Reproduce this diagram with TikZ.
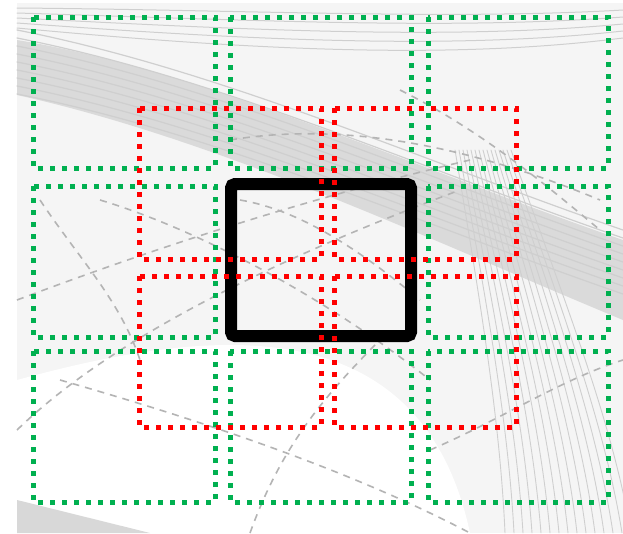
\documentclass[tikz,border=0pt]{standalone}
\usepackage{xcolor}
\usepackage{tikz}
\usetikzlibrary{calc}
\definecolor{CGreen}{HTML}{00B050}
\definecolor{CRed}{HTML}{FF0000}
\definecolor{CPaper}{HTML}{F5F5F5}
\definecolor{CStreak}{HTML}{CFCFCF}
\definecolor{CSketch}{HTML}{B4B4B4}

\begin{document}
\begin{tikzpicture}[x=1pt,y=-1pt,
  greenbox/.style={draw=CGreen, line width=5pt, dash pattern=on 5pt off 7pt},
  redbox/.style={draw=CRed, line width=5pt, dash pattern=on 5pt off 7pt},
  focusbox/.style={draw=black, line width=12pt, rounded corners=4pt},
  streak/.style={draw=CStreak, line cap=round},
  sketch/.style={draw=CSketch, line width=1.6pt, dash pattern=on 7pt off 6pt}]
\useasboundingbox (0,0) rectangle (623,533);
% background sketch
\fill[CPaper] (17,3) rectangle (623,533);
\fill[white] (17,380) .. controls (200,330) and (420,300) .. (470,533) -- (17,533) -- cycle;
\fill[CStreak, opacity=0.7] (17,40) .. controls (200,70) and (420,170) .. (623,240)
  -- (623,320) .. controls (430,240) and (220,140) .. (17,95) -- cycle;
\foreach \o in {0,8,...,64}{
  \draw[streak, line width=1.2pt] (17,{30+\o}) .. controls (220,{70+\o}) and (420,{160+\o}) .. (623,{230+\o});
}
\foreach \o in {0,10,...,40}{
  \draw[streak, line width=1pt] (17,{8+\o*0.5}) .. controls (250,{10+\o}) and (450,{20+\o}) .. (623,{10+\o*0.7});
}
\foreach \k in {0,...,14}{
  \draw[streak, line width=0.9pt] ({455+\k*4},150) .. controls ({480+\k*6},300) and ({500+\k*8},420) .. ({505+\k*9},533);
}
\fill[CStreak, opacity=0.8] (17,500) -- (150,533) -- (17,533) -- cycle;
% dashed sketch lines
\draw[sketch] (17,430) .. controls (120,330) and (300,250) .. (460,190);
\draw[sketch] (17,300) .. controls (150,250) and (300,200) .. (470,160);
\draw[sketch] (60,380) .. controls (200,420) and (350,470) .. (470,533);
\draw[sketch] (100,200) .. controls (200,230) and (330,300) .. (430,380);
\draw[sketch] (250,533) .. controls (280,450) and (320,400) .. (380,340);
\draw[sketch] (230,140) .. controls (350,120) and (480,150) .. (600,200);
\draw[sketch] (400,90) .. controls (480,130) and (540,180) .. (600,230);
\draw[sketch] (40,200) .. controls (80,260) and (120,300) .. (140,360);
\draw[sketch] (430,450) .. controls (500,420) and (560,380) .. (623,360);
\draw[sketch] (240,200) .. controls (300,210) and (360,250) .. (420,300);
% green grid
\foreach \xa/\xb in {33/215, 230/411, 428/608}{
  \foreach \ya/\yb in {17/168, 186/337, 351/502}{
    \draw[greenbox] (\xa,\ya) rectangle (\xb,\yb);
  }
}
% focus window
\draw[focusbox] (231,184) rectangle (411,336);
% red grid
\foreach \xa/\xb in {139/321, 334/516}{
  \foreach \ya/\yb in {108/259, 276/427}{
    \draw[redbox] (\xa,\ya) rectangle (\xb,\yb);
  }
}
\end{tikzpicture}
\end{document}
